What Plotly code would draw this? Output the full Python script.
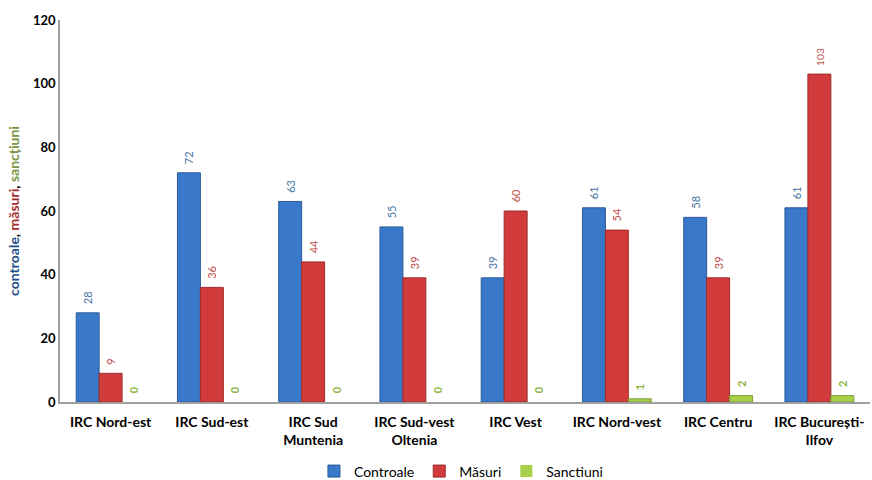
import plotly.graph_objects as go

categories = ["IRC Nord-est", "IRC Sud-est", "IRC Sud<br>Muntenia", "IRC Sud-vest<br>Oltenia",
              "IRC Vest", "IRC Nord-vest", "IRC Centru", "IRC București-<br>Ilfov"]
controale = [28, 72, 63, 55, 39, 61, 58, 61]
masuri = [9, 36, 44, 39, 60, 54, 39, 103]
sanctiuni = [0, 0, 0, 0, 0, 1, 2, 2]
y_ticks = [0, 20, 40, 60, 80, 100, 120]

series = [
    ("Controale", controale, "#3A78C9", "#2A5A9A", "#4A76A8", False),
    ("Măsuri", masuri, "#D23B3B", "#9E2A2A", "#C0504D", False),
    ("Sanctiuni", sanctiuni, "#A6D04A", "#7A9E30", "#8DB33E", True),
]

fig = go.Figure()
for name, vals, col, lcol, tcol, bold in series:
    fig.add_trace(go.Bar(
        x=categories, y=vals, name=name,
        marker=dict(color=col, line=dict(color=lcol, width=[0 if v == 0 else 1 for v in vals])),
        text=[("\u00a0\u00a0" + (f"<b>{v}</b>" if bold else str(v))) for v in vals],
        textposition="outside", textangle=-90,
        textfont=dict(color=tcol, size=11, family="Lato"),
        cliponaxis=False,
    ))

fig.update_layout(
    width=872, height=480,
    margin=dict(l=60, r=2, t=20, b=78, autoexpand=False),
    paper_bgcolor="white", plot_bgcolor="white",
    barmode="group", bargap=0.32, bargroupgap=0,
    font=dict(family="Lato", color="#000000"),
    showlegend=True,
    legend=dict(orientation="h", x=0.495, xanchor="center", y=-0.14, yanchor="top",
                font=dict(size=14, family="Lato"), itemwidth=30, traceorder="normal",
                tracegroupgap=0),
    xaxis=dict(showline=True, linecolor="#A0A0A0", linewidth=1.5, ticks="",
               tickfont=dict(size=14, family="Lato", color="#000000"),
               ticklabelstandoff=6,
               showgrid=False, automargin=False),
    yaxis=dict(range=[0, 120], tickvals=y_ticks, ticktext=[f"<b>{t}</b>" for t in y_ticks],
               showline=True, linecolor="#A0A0A0", linewidth=1.5, ticks="",
               showgrid=False, zeroline=False, automargin=False,
               tickfont=dict(size=13, family="Lato", color="#000000"),
               title=dict(text='<b><span style="color:#1F4E8C">controale</span>, '
                               '<span style="color:#A52A2A">măsuri</span>, '
                               '<span style="color:#77933C">sancțiuni</span></b>',
                          font=dict(size=14, family="Lato"), standoff=10)),
)
fig.update_xaxes(ticktext=[f"<b>{c}</b>" for c in categories], tickvals=categories)

fig.write_html("out.html", config={"displayModeBar": False},
               post_script="document.body.style.margin='0';document.body.style.overflow='hidden';")
